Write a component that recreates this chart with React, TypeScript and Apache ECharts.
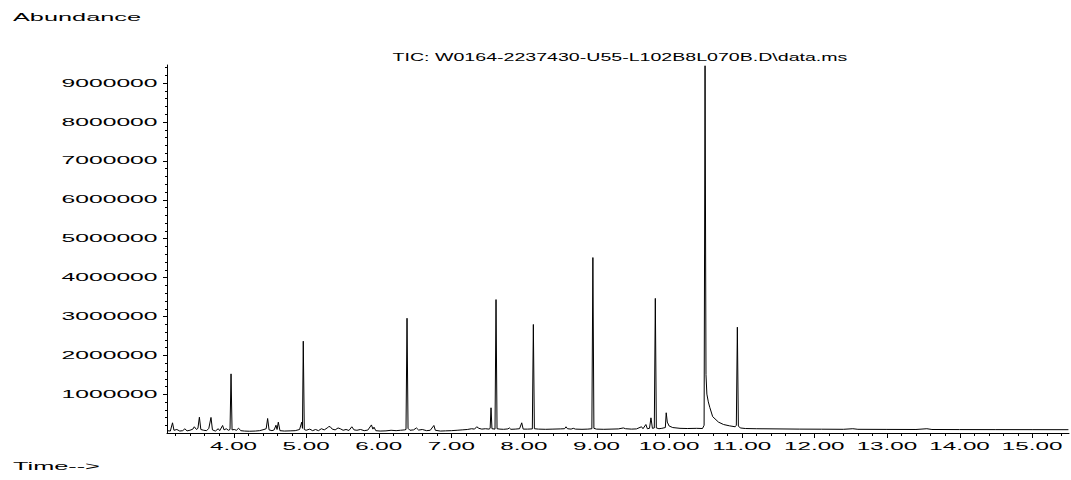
import React, { useEffect, useRef } from "react";
import * as echarts from "echarts";

// Retention time (min) and abundance
const retentionTimes = [
  3.09, 3.13, 3.16, 3.18, 3.22, 3.26, 3.3, 3.33, 3.36, 3.4, 3.44, 3.46, 3.49, 3.51, 3.53, 3.55, 3.59, 3.63,
  3.66, 3.69, 3.71, 3.75, 3.79, 3.81, 3.85, 3.87, 3.9, 3.93, 3.952, 3.966, 3.98, 4.01, 4.04, 4.07, 4.1, 4.15,
  4.22, 4.3, 4.36, 4.42, 4.45, 4.47, 4.49, 4.53, 4.56, 4.585, 4.6, 4.617, 4.64, 4.7, 4.78, 4.85, 4.91, 4.94,
  4.95, 4.961, 4.975, 5.0, 5.05, 5.09, 5.13, 5.17, 5.21, 5.25, 5.29, 5.31, 5.33, 5.36, 5.4, 5.44, 5.47, 5.51,
  5.55, 5.59, 5.63, 5.66, 5.7, 5.75, 5.8, 5.85, 5.9, 5.92, 5.935, 5.96, 6.02, 6.1, 6.17, 6.24, 6.3, 6.36,
  6.376, 6.39, 6.404, 6.43, 6.48, 6.52, 6.55, 6.6, 6.66, 6.71, 6.76, 6.78, 6.85, 6.92, 7.0, 7.08, 7.15, 7.22,
  7.28, 7.32, 7.35, 7.38, 7.42, 7.47, 7.52, 7.535, 7.547, 7.56, 7.602, 7.616, 7.63, 7.67, 7.72, 7.78, 7.8,
  7.82, 7.88, 7.94, 7.97, 7.99, 8.05, 8.116, 8.13, 8.144, 8.2, 8.3, 8.4, 8.5, 8.56, 8.58, 8.6, 8.65, 8.68,
  8.71, 8.8, 8.88, 8.936, 8.95, 8.964, 9.0, 9.1, 9.2, 9.3, 9.37, 9.4, 9.48, 9.55, 9.62, 9.64, 9.68, 9.7,
  9.73, 9.75, 9.77, 9.796, 9.81, 9.824, 9.86, 9.9, 9.948, 9.96, 9.975, 10.0, 10.05, 10.15, 10.25, 10.38,
  10.46, 10.482, 10.495, 10.508, 10.52, 10.54, 10.56, 10.6, 10.68, 10.75, 10.83, 10.91, 10.926, 10.94,
  10.954, 10.98, 11.05, 11.2, 11.5, 11.8, 12.1, 12.4, 12.53, 12.6, 13.0, 13.4, 13.55, 13.62, 14.0, 14.5,
  15.0, 15.5,
];
const abundances = [
  60000, 50000, 262000, 70000, 90000, 50000, 60000, 108000, 55000, 70000, 100000, 160000, 90000, 120000, 406000, 90000, 70000, 60000,
  120000, 400000, 80000, 50000, 110000, 60000, 193000, 80000, 110000, 70000, 90000, 1520000, 80000, 90000, 70000, 123000, 60000, 50000,
  45000, 50000, 60000, 90000, 110000, 373000, 80000, 60000, 80000, 200000, 90000, 278000, 60000, 50000, 55000, 60000, 90000, 278000,
  120000, 2360000, 90000, 70000, 100000, 60000, 90000, 60000, 110000, 80000, 130000, 160000, 165000, 100000, 80000, 130000, 110000, 70000,
  90000, 65000, 160000, 80000, 70000, 90000, 60000, 75000, 208000, 100000, 150000, 60000, 50000, 55000, 70000, 60000, 70000, 80000,
  90000, 2950000, 120000, 70000, 80000, 130000, 75000, 90000, 60000, 70000, 193000, 70000, 50000, 55000, 60000, 70000, 80000, 90000,
  110000, 100000, 160000, 120000, 100000, 110000, 100000, 120000, 648000, 110000, 100000, 3430000, 110000, 100000, 95000, 105000, 130000,
  95000, 100000, 110000, 262000, 100000, 100000, 105000, 2790000, 110000, 100000, 95000, 100000, 105000, 110000, 160000, 110000, 100000, 120000,
  100000, 95000, 100000, 110000, 4510000, 120000, 100000, 95000, 100000, 105000, 130000, 110000, 100000, 105000, 160000, 110000, 218000, 110000,
  120000, 390000, 120000, 130000, 3460000, 130000, 110000, 120000, 140000, 520000, 280000, 180000, 140000, 120000, 115000, 120000,
  115000, 200000, 9440000, 1500000, 1000000, 800000, 660000, 420000, 280000, 218000, 185000, 160000, 200000, 2720000,
  180000, 130000, 115000, 110000, 105000, 100000, 98000, 95000, 110000, 95000, 92000, 90000, 110000, 90000, 88000, 87000,
  86000, 85000,
];

const xMajorTicks = [3, 4, 5, 6, 7, 8, 9, 10, 11, 12, 13, 14, 15];
const xTickLabels = ["3.00", "4.00", "5.00", "6.00", "7.00", "8.00", "9.00", "10.00", "11.00", "12.00", "13.00", "14.00", "15.00"];
const yMajorTicks = [0, 1000000, 2000000, 3000000, 4000000, 5000000, 6000000, 7000000, 8000000, 9000000];
const yTickLabels = ["", "1000000", "2000000", "3000000", "4000000", "5000000", "6000000", "7000000", "8000000", "9000000"];

const X_MIN = 3.084;
const X_MAX = 15.508;
const Y_MIN = 0;
const Y_MAX = 9460000;
const X_MINOR_STEP = 0.2;
const Y_MINOR_STEP = 200000;

const titleText = "TIC: W0164-2237430-U55-L102B8L070B.D\\data.ms";
const yAxisName = "Abundance";
const xAxisName = "Time-->";

const FONT = '11px "Liberation Sans", Arial, sans-serif';

export default function App() {
  const ref = useRef<HTMLDivElement>(null);

  useEffect(() => {
    if (!ref.current) return;
    const chart = echarts.init(ref.current, undefined, { renderer: "svg" });

    const lineData = retentionTimes.map((t, i) => [t, abundances[i]]);

    const option: any = {
      animation: false,
      backgroundColor: "#fff",
      grid: { left: 167, right: 2, top: 65, bottom: 47, containLabel: false },
      xAxis: {
        type: "value",
        min: X_MIN,
        max: X_MAX,
        axisLine: { show: true, lineStyle: { color: "#000", width: 1 } },
        axisTick: { show: false },
        axisLabel: { show: false },
        splitLine: { show: false },
      },
      yAxis: {
        type: "value",
        min: Y_MIN,
        max: Y_MAX,
        axisLine: { show: true, lineStyle: { color: "#000", width: 1 } },
        axisTick: { show: false },
        axisLabel: { show: false },
        splitLine: { show: false },
      },
      graphic: [
        {
          type: "text",
          x: 13,
          y: 17,
          scaleX: 2.3,
          silent: true,
          style: { text: yAxisName, font: FONT, fill: "#000", align: "left", verticalAlign: "middle", textAlign: "left", textVerticalAlign: "middle" },
        },
        {
          type: "text",
          x: 620,
          y: 57,
          scaleX: 1.78,
          silent: true,
          style: { text: titleText, font: FONT, fill: "#000", align: "center", verticalAlign: "middle", textAlign: "center", textVerticalAlign: "middle" },
        },
        {
          type: "text",
          x: 13,
          y: 466,
          scaleX: 2.3,
          silent: true,
          style: { text: xAxisName, font: FONT, fill: "#000", align: "left", verticalAlign: "middle", textAlign: "left", textVerticalAlign: "middle" },
        },
      ],
      series: [
        {
          type: "line",
          data: lineData,
          showSymbol: false,
          symbol: "none",
          silent: true,
          clip: true,
          lineStyle: { color: "#000", width: 1 },
          z: 3,
        },
        {
          type: "custom",
          silent: true,
          clip: false,
          data: xMajorTicks.map((v) => [v, Y_MIN]),
          renderItem: (params: any, api: any) => {
            const v = api.value(0);
            const children: any[] = [];
            for (let j = 0; j < 5; j++) {
              const t = v + j * X_MINOR_STEP;
              if (t < X_MIN || t > X_MAX) continue;
              const p = api.coord([t, Y_MIN]);
              const x = Math.round(p[0]) + 0.5;
              const len = j === 0 ? 5 : 3;
              children.push({
                type: "line",
                shape: { x1: x, y1: p[1], x2: x, y2: p[1] + len },
                style: { stroke: "#000", lineWidth: 1 },
              });
            }
            if (v >= X_MIN) {
              const p = api.coord([v, Y_MIN]);
              children.push({
                type: "text",
                x: p[0],
                y: p[1] + 13,
                scaleX: 2.2,
                style: {
                  text: xTickLabels[params.dataIndex],
                  font: FONT,
                  fill: "#000",
                  align: "center",
                  verticalAlign: "middle",
                  textAlign: "center",
                  textVerticalAlign: "middle",
                },
              });
            }
            return { type: "group", children };
          },
        },
        {
          type: "custom",
          silent: true,
          clip: false,
          data: yMajorTicks.map((v) => [X_MIN, v]),
          renderItem: (params: any, api: any) => {
            const v = api.value(1);
            const children: any[] = [];
            for (let j = 0; j < 5; j++) {
              const val = v + j * Y_MINOR_STEP;
              if (val > Y_MAX) continue;
              if (j === 0 && val === Y_MIN) continue;
              const p = api.coord([X_MIN, val]);
              const y = Math.round(p[1]) + 0.5;
              const len = j === 0 ? 4 : 2;
              children.push({
                type: "line",
                shape: { x1: p[0], y1: y, x2: p[0] - len, y2: y },
                style: { stroke: "#000", lineWidth: 1 },
              });
            }
            const label = yTickLabels[params.dataIndex];
            if (label) {
              const p = api.coord([X_MIN, v]);
              children.push({
                type: "text",
                x: p[0] - 9.5,
                y: p[1],
                scaleX: 2.24,
                style: {
                  text: label,
                  font: FONT,
                  fill: "#000",
                  align: "right",
                  verticalAlign: "middle",
                  textAlign: "right",
                  textVerticalAlign: "middle",
                },
              });
            }
            return { type: "group", children };
          },
        },
      ],
    };

    chart.setOption(option);
    return () => {
      chart.dispose();
    };
  }, []);

  return (
    <div
      ref={ref}
      style={{ position: "absolute", left: 0, top: 0, width: 1071, height: 480 }}
    />
  );
}
